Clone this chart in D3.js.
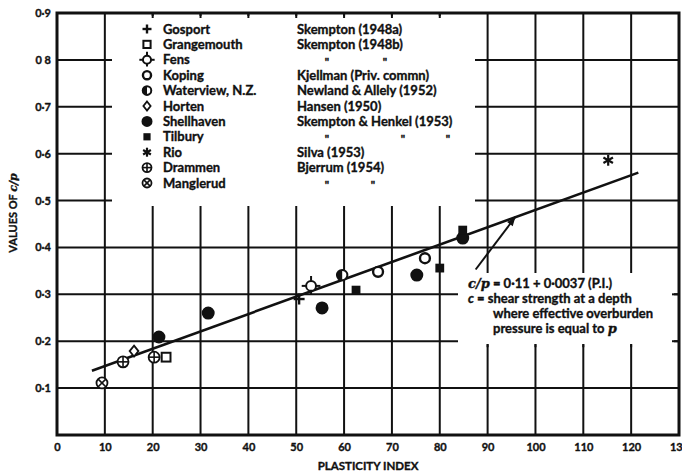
<!DOCTYPE html>
<html><head><meta charset="utf-8">
<script src="https://cdn.jsdelivr.net/npm/d3@7"></script>
<style>
html,body{margin:0;padding:0;background:#fff;}
text{font-family:Lato,"DejaVu Sans",sans-serif;font-weight:700;fill:#111;stroke:#111;stroke-width:0.35px;}
</style></head>
<body><svg id="c" width="682" height="476"></svg>
<script>
// ---- data ----
const xTicks = [0,10,20,30,40,50,60,70,80,90,100,110,120,130];
const yTicks = [0.1,0.2,0.3,0.4,0.5,0.6,0.7,0.8,0.9];
const yTickLabels = ["0·1","0·2","0·3","0·4","0·5","0·6","0·7","0 8","0·9"];
const siteNames = ["Gosport","Grangemouth","Fens","Koping","Waterview, N.Z.","Horten","Shellhaven","Tilbury","Rio","Drammen","Manglerud"];
const siteRefs = ["Skempton (1948a)","Skempton (1948b)","","Kjellman (Priv. commn)","Newland & Allely (1952)","Hansen (1950)","Skempton & Henkel (1953)","","Silva (1953)","Bjerrum (1954)",""];
const siteSymbols = ["plus","openSquare","fens","openCircle","halfCircle","diamond","filledCircle","filledSquare","star","circlePlus","circleCross"];
// points: [plasticity index, c/p]
const gosport = [[50.6,0.290]];
const grangemouth = [[22.8,0.166]];
const fens = [[53.1,0.318]];
const koping = [[67.1,0.348],[76.9,0.377]];
const waterview = [[59.6,0.341]];
const horten = [[16.1,0.179]];
const shellhaven = [[21.3,0.209],[31.6,0.260],[55.4,0.271],[75.2,0.341],[84.8,0.420]];
const tilbury = [[62.5,0.309],[80.0,0.356],[84.8,0.437]];
const rio = [[115.2,0.586]];
const drammen = [[13.8,0.156],[20.3,0.166]];
const manglerud = [[9.4,0.111]];
const seriesPoints = [gosport,grangemouth,fens,koping,waterview,horten,shellhaven,tilbury,rio,drammen,manglerud];
// fitted line c/p = 0.11 + 0.0037 PI
const fitIntercept = 0.11, fitSlope = 0.0037;
const fitRange = [7.3, 121.5];
const arrowFrom = [87.5, 0.353], arrowTo = [95.8, 0.465];
const noteLines = ["= shear strength at a depth","where effective overburden","pressure is equal to "];

// ---- drawing ----
const svg = d3.select("#c");
const x = d3.scaleLinear().domain([0,130]).range([57,679]);
const y = d3.scaleLinear().domain([0,0.9]).range([435,13]);
const ink = "#111";

// grid
const grid = svg.append("g").attr("stroke",ink).attr("stroke-width",2);
xTicks.slice(1,-1).forEach(t=>grid.append("line").attr("x1",x(t)).attr("x2",x(t)).attr("y1",y(0.9)).attr("y2",y(0)));
yTicks.slice(0,-1).forEach(t=>grid.append("line").attr("x1",x(0)).attr("x2",x(130)).attr("y1",y(t)).attr("y2",y(t)));

// blank areas behind legend and note
svg.append("rect").attr("x",112).attr("y",16).attr("width",363).attr("height",190).attr("fill","#fff");
svg.append("rect").attr("x",458).attr("y",273).attr("width",216).attr("height",71).attr("fill","#fff");

// frame
svg.append("rect").attr("x",x(0)).attr("y",y(0.9)).attr("width",x(130)-x(0)).attr("height",y(0)-y(0.9))
  .attr("fill","none").attr("stroke",ink).attr("stroke-width",3);

// short ticks
const tk = svg.append("g").attr("stroke",ink).attr("stroke-width",2);
xTicks.filter(t=>t>=20&&t<=80).forEach(t=>tk.append("line").attr("x1",x(t)).attr("x2",x(t)).attr("y1",y(0.9)).attr("y2",y(0.9)+5));
[0.2,0.3].forEach(t=>tk.append("line").attr("x1",x(130)).attr("x2",x(130)-7).attr("y1",y(t)).attr("y2",y(t)));
[90,100,110,120].forEach(t=>tk.append("line").attr("x1",x(t)).attr("x2",x(t)).attr("y1",y(0.2)+3).attr("y2",y(0.2)+6));

// axis labels
const xa = d3.axisBottom(x).tickValues(xTicks).tickSize(0).tickPadding(0);
const gx = svg.append("g").attr("transform",`translate(0,${y(0)+8})`).call(xa);
gx.select(".domain").remove();
gx.selectAll("text").attr("font-size",11).attr("font-family","Lato, sans-serif").attr("font-weight",700).attr("fill",ink);
const ya = d3.axisLeft(y).tickValues(yTicks).tickSize(0).tickPadding(0).tickFormat((d,i)=>yTickLabels[i]);
const gy = svg.append("g").attr("transform",`translate(${x(0)-6},0)`).call(ya);
gy.select(".domain").remove();
gy.selectAll("text").attr("font-size",11).attr("font-family","Lato, sans-serif").attr("font-weight",700).attr("fill",ink);

svg.append("text").attr("x",(x(0)+x(130))/2).attr("y",470).attr("text-anchor","middle").attr("font-size",11.5).text("PLASTICITY INDEX");
const yt = svg.append("text").attr("transform","translate(17,213) rotate(-90)").attr("text-anchor","middle").attr("font-size",11);
yt.append("tspan").text("VALUES OF ");
yt.append("tspan").attr("font-style","italic").attr("font-family","DejaVu Serif, serif").text("c/p");

// fit line
const fitLine = d3.line().x(d=>x(d)).y(d=>y(fitIntercept+fitSlope*d));
svg.append("path").attr("d",fitLine(fitRange)).attr("fill","none").attr("stroke",ink).attr("stroke-width",2.6);

// arrow
const ax1=x(arrowFrom[0]), ay1=y(arrowFrom[1]), ax2=x(arrowTo[0]), ay2=y(arrowTo[1]);
svg.append("line").attr("x1",ax1).attr("y1",ay1).attr("x2",ax2).attr("y2",ay2).attr("stroke",ink).attr("stroke-width",2);
const ang = Math.atan2(ay2-ay1, ax2-ax1);
const hl=9, hw=3.5;
const hp = [[ax2,ay2],[ax2-hl*Math.cos(ang)+hw*Math.sin(ang), ay2-hl*Math.sin(ang)-hw*Math.cos(ang)],[ax2-hl*Math.cos(ang)-hw*Math.sin(ang), ay2-hl*Math.sin(ang)+hw*Math.cos(ang)]];
svg.append("path").attr("d","M"+hp.map(p=>p.join(",")).join("L")+"Z").attr("fill",ink);

// symbols
function sym(g, type, cx, cy, s){
  const sw=2;
  const L=(x1,y1,x2,y2,w)=>g.append("line").attr("x1",cx+x1).attr("y1",cy+y1).attr("x2",cx+x2).attr("y2",cy+y2).attr("stroke",ink).attr("stroke-width",w||sw+0.4);
  const C=(r,fill,w)=>g.append("circle").attr("cx",cx).attr("cy",cy).attr("r",r).attr("fill",fill).attr("stroke",ink).attr("stroke-width",w||sw);
  switch(type){
    case "plus": L(-s,0,s,0); L(0,-s,0,s); break;
    case "openSquare": g.append("rect").attr("x",cx-s*0.8).attr("y",cy-s*0.8).attr("width",s*1.6).attr("height",s*1.6).attr("fill","#fff").attr("stroke",ink).attr("stroke-width",sw); break;
    case "fens": C(s*0.9,"#fff"); L(0,-s*0.9,0,-s*1.8,2); L(-s*0.9,0,-s*1.7,0,2); L(s*0.9,0,s*1.7,0,2); L(0,s*0.9,0,s*1.5,2); break;
    case "openCircle": C(s*0.9,"#fff",2.4); break;
    case "halfCircle": C(s*0.95,"#fff",2); g.append("path").attr("d",`M${cx},${cy-s*0.95}A${s*0.95},${s*0.95} 0 0 0 ${cx},${cy+s*0.95}Z`).attr("fill",ink); break;
    case "diamond": g.append("path").attr("d",`M${cx},${cy-s}L${cx+s*0.8},${cy}L${cx},${cy+s}L${cx-s*0.8},${cy}Z`).attr("fill","#fff").attr("stroke",ink).attr("stroke-width",1.8); break;
    case "filledCircle": C(s,ink,0); break;
    case "filledSquare": g.append("rect").attr("x",cx-s*0.8).attr("y",cy-s*0.8).attr("width",s*1.6).attr("height",s*1.6).attr("fill",ink); break;
    case "star": for(let k=0;k<3;k++){const a=Math.PI/2+k*Math.PI/3; L(-s*Math.cos(a),-s*Math.sin(a),s*Math.cos(a),s*Math.sin(a),2.2);} break;
    case "circlePlus": C(s,"#fff",1.8); L(-s,0,s,0,1.6); L(0,-s,0,s,1.6); break;
    case "circleCross": C(s,"#fff",1.8); const d=s*0.7; L(-d,-d,d,d,1.6); L(-d,d,d,-d,1.6); break;
  }
}
const pts = svg.append("g");
seriesPoints.forEach((arr,i)=>arr.forEach(p=>sym(pts, siteSymbols[i], x(p[0]), y(p[1]), 5.5)));

// legend
const lg = svg.append("g");
const rowY = i=>29+i*15.4;
siteNames.forEach((n,i)=>{
  sym(lg, siteSymbols[i], 147, rowY(i), 4.5);
  lg.append("text").attr("x",163).attr("y",rowY(i)+4.5).attr("font-size",13).text(n);
  if(siteRefs[i]) lg.append("text").attr("x",297).attr("y",rowY(i)+4.5).attr("font-size",13).text(siteRefs[i]);
});
const dittoX = {2:[327,385],7:[327,403,448],10:[327,373]};
Object.keys(dittoX).forEach(k=>dittoX[k].forEach(dx=>lg.append("text").attr("x",dx).attr("y",rowY(+k)+6).attr("text-anchor","middle").attr("font-size",11).text('"')));

// note
const nt = svg.append("g").attr("font-size",13);
const t1 = nt.append("text").attr("x",468).attr("y",288);
t1.append("tspan").attr("font-style","italic").attr("font-family","DejaVu Serif, serif").text("c/p");
t1.append("tspan").text(" = 0·11 + 0·0037 (P.I.)");
const t2 = nt.append("text").attr("x",468).attr("y",303);
t2.append("tspan").attr("font-style","italic").text("c");
t2.append("tspan").text(" "+noteLines[0]);
nt.append("text").attr("x",493).attr("y",318).text(noteLines[1]);
const t4 = nt.append("text").attr("x",493).attr("y",333);
t4.append("tspan").text(noteLines[2]);
t4.append("tspan").attr("font-style","italic").attr("font-family","DejaVu Serif, serif").text("p");
</script></body></html>
